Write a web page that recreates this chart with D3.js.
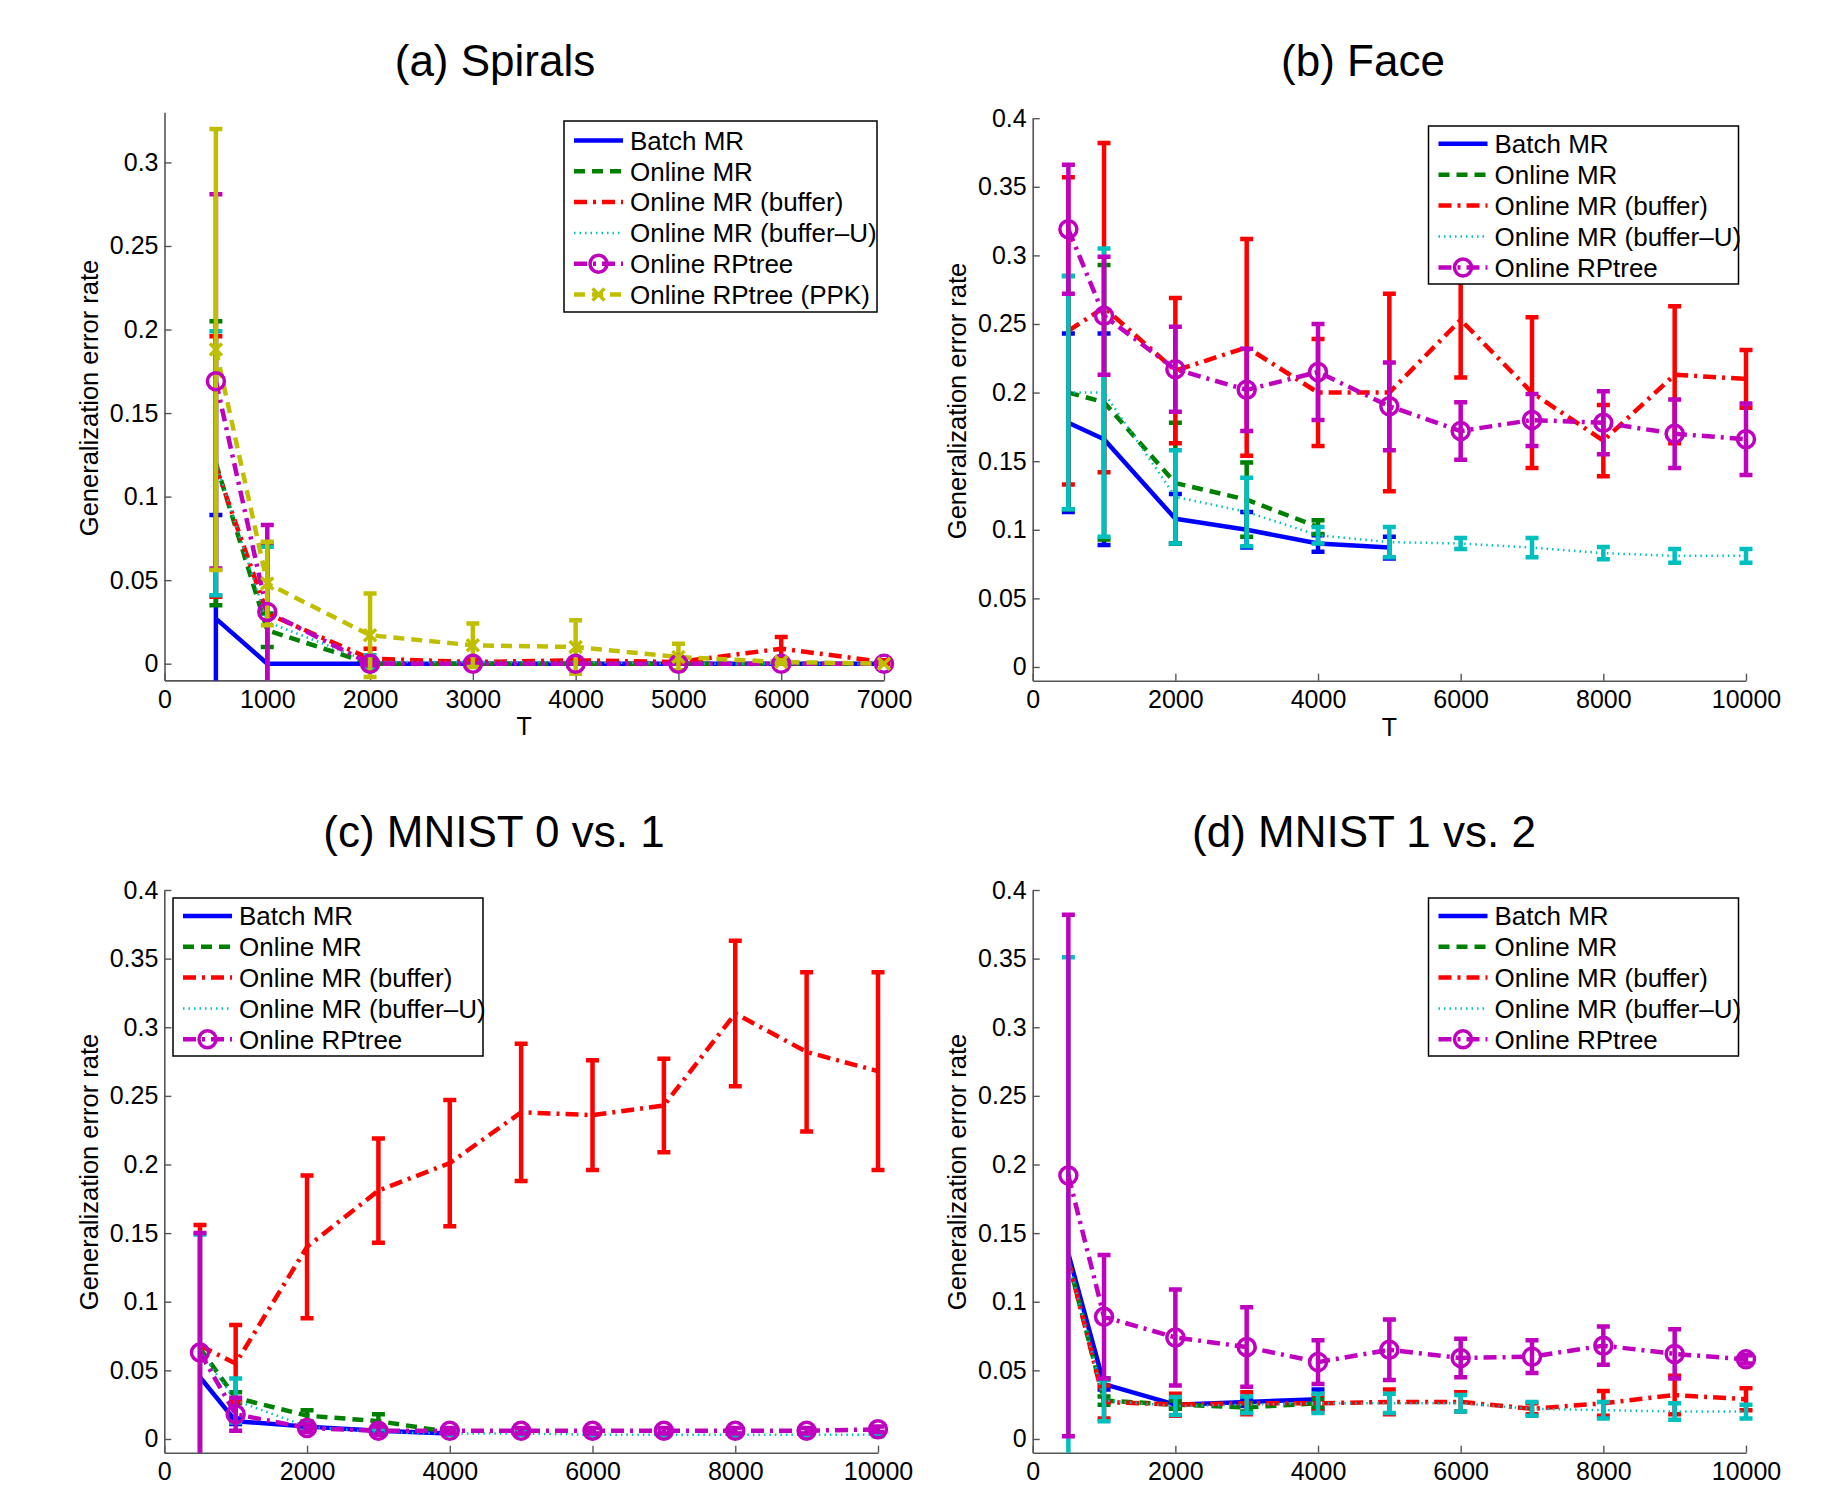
<!DOCTYPE html>
<html>
<head>
<meta charset="utf-8">
<script src="https://cdn.jsdelivr.net/npm/d3@7"></script>
<style>
  body { margin: 0; background: #fff; }
  text { font-family: "Liberation Sans", Arial, Helvetica, sans-serif; }
</style>
</head>
<body>
<div id="chart"></div>
<script>
const W = 1845, H = 1485

// ---- data ----
const seriesNames = ["Batch MR", "Online MR", "Online MR (buffer)", "Online MR (buffer\u2013U)", "Online RPtree", "Online RPtree (PPK)"]
const titles = ["(a) Spirals", "(b) Face", "(c) MNIST 0 vs. 1", "(d) MNIST 1 vs. 2"]

const tSpirals = [500, 1000, 2000, 3000, 4000, 5000, 6000, 7000]
const tLong = [500, 1000, 2000, 3000, 4000, 5000, 6000, 7000, 8000, 9000, 10000]

const spiralsXTicks = [0, 1000, 2000, 3000, 4000, 5000, 6000, 7000]
const spiralsYTicks = [0, 0.05, 0.1, 0.15, 0.2, 0.25, 0.3]
const longXTicks = [0, 2000, 4000, 6000, 8000, 10000]
const longYTicks = [0, 0.05, 0.1, 0.15, 0.2, 0.25, 0.3, 0.35, 0.4]

// one row per series: Batch MR, Online MR, buffer, buffer-U, RPtree, RPtree (PPK)
const spiralsMean = [
    [0.027, 0, 0, 0, 0, 0, 0, 0],
    [0.12, 0.02, 0, 0, 0, 0, 0, 0],
    [0.118, 0.03, 0.003, 0.001, 0.002, 0.001, 0.009, 0.001],
    [0.12, 0.025, 0.001, 0.001, 0.001, 0, 0, 0],
    [0.169, 0.031, 0, 0, 0, 0, 0, 0],
    [0.188, 0.048, 0.017, 0.011, 0.01, 0.004, 0.001, 0]
]
const spiralsErr = [
    [0.062, 0, 0, 0, 0, 0, 0, 0],
    [0.085, 0.01, 0.002, 0, 0, 0, 0, 0],
    [0.078, 0.042, 0.006, 0.001, 0.001, 0.001, 0.007, 0.001],
    [0.079, 0.045, 0.004, 0, 0, 0, 0, 0],
    [0.112, 0.052, 0.001, 0, 0, 0, 0, 0],
    [0.132, 0.025, 0.025, 0.013, 0.016, 0.008, 0.001, 0]
]

const faceMean = [
    [0.178, 0.166, 0.108, 0.1, 0.09, 0.087, null, null, null, null, null],
    [0.2, 0.193, 0.134, 0.122, 0.102, null, null, null, null, null, null],
    [0.245, 0.262, 0.216, 0.233, 0.2, 0.2, 0.253, 0.2, 0.165, 0.213, 0.21],
    [0.2, 0.2, 0.124, 0.113, 0.096, 0.091, 0.09, 0.087, 0.083, 0.081, 0.081],
    [0.319, 0.256, 0.217, 0.202, 0.215, 0.19, 0.172, 0.18, 0.178, 0.17, 0.166]
]
const faceErr = [
    [0.065, 0.077, 0.018, 0.013, 0.006, 0.008, null, null, null, null, null],
    [0.085, 0.1, 0.044, 0.027, 0.005, null, null, null, null, null, null],
    [0.112, 0.12, 0.053, 0.079, 0.039, 0.072, 0.042, 0.055, 0.026, 0.05, 0.021],
    [0.085, 0.105, 0.034, 0.025, 0.006, 0.011, 0.004, 0.007, 0.0045, 0.005, 0.005],
    [0.047, 0.043, 0.031, 0.03, 0.035, 0.032, 0.021, 0.019, 0.023, 0.025, 0.026]
]

const mnist01Mean = [
    [0.045, 0.013, 0.009, 0.006, 0.004, null, null, null, null, null, null],
    [0.066, 0.03, 0.017, 0.013, 0.005, null, null, null, null, null, null],
    [0.068, 0.055, 0.14, 0.181, 0.201, 0.238, 0.236, 0.243, 0.31, 0.282, 0.268],
    [0.064, 0.028, 0.009, 0.005, 0.004, 0.004, 0.003, 0.003, 0.003, 0.003, 0.003],
    [0.063, 0.018, 0.008, 0.006, 0.006, 0.006, 0.006, 0.006, 0.006, 0.006, 0.007]
]
const mnist01Err = [
    [0, 0.002, 0.002, 0.001, 0.001, null, null, null, null, null, null],
    [0, 0.004, 0.004, 0.005, 0.001, null, null, null, null, null, null],
    [0.088, 0.028, 0.052, 0.038, 0.046, 0.05, 0.04, 0.034, 0.053, 0.058, 0.072],
    [0.085, 0.016, 0.003, 0.002, 0.001, 0.001, 0.001, 0.001, 0.001, 0.001, 0.001],
    [0.087, 0.012, 0.003, 0.003, 0.002, 0.002, 0.002, 0.002, 0.002, 0.002, 0.002]
]

const mnist12Mean = [
    [0.135, 0.04, 0.025, 0.027, 0.029, null, null, null, null, null, null],
    [0.13, 0.028, 0.025, 0.023, 0.026, null, null, null, null, null, null],
    [0.13, 0.027, 0.025, 0.026, 0.026, 0.027, 0.027, 0.022, 0.026, 0.032, 0.029],
    [0.13, 0.028, 0.024, 0.025, 0.026, 0.026, 0.026, 0.022, 0.021, 0.02, 0.02],
    [0.192, 0.089, 0.074, 0.067, 0.056, 0.065, 0.059, 0.06, 0.068, 0.062, 0.058]
]
const mnist12Err = [
    [0, 0.004, 0.003, 0.003, 0.007, null, null, null, null, null, null],
    [0, 0.003, 0.003, 0.003, 0.003, null, null, null, null, null, null],
    [0, 0.012, 0.008, 0.008, 0.006, 0.009, 0.007, 0.004, 0.009, 0.014, 0.008],
    [0.221, 0.015, 0.0065, 0.006, 0.007, 0.007, 0.006, 0.005, 0.006, 0.006, 0.005],
    [0.19, 0.045, 0.035, 0.029, 0.016, 0.022, 0.014, 0.012, 0.014, 0.018, 0.003]
]

// ---- styles ----
const styles = [
    { color: "#0000ff", dash: null, width: 4.5 },
    { color: "#008000", dash: "11,7", width: 4.5 },
    { color: "#ff0000", dash: "13,6,3,6", width: 4.5 },
    { color: "#00bfbf", dash: "1.5,4", width: 2.5 },
    { color: "#bf00bf", dash: "13,6,3,6", width: 4.5, marker: "o" },
    { color: "#bfbf00", dash: "11,7", width: 4.5, marker: "x" }
]

// ---- layout ----
const panels = [
    { title: titles[0], t: tSpirals, mean: spiralsMean, err: spiralsErr, xMax: 7000, yMax: 0.33,
      xTicks: spiralsXTicks, yTicks: spiralsYTicks, left: 164.5, right: 884, top: 112.3, bottom: 680.4,
      titleX: 495, titleY: 76, ylabX: 98, ylabY: 398, tLabel: true,
      legend: { x: 564, y: 121, w: 313, h: 191, first: 19.5, step: 30.8 } },
    { title: titles[1], t: tLong, mean: faceMean, err: faceErr, xMax: 10000, yMax: 0.4,
      xTicks: longXTicks, yTicks: longYTicks, left: 1032.7, right: 1746, top: 118.2, bottom: 680.7,
      titleX: 1363, titleY: 76, ylabX: 966, ylabY: 401, tLabel: true,
      legend: { x: 1428.5, y: 126, w: 310, h: 158, first: 17.8, step: 30.9 } },
    { title: titles[2], t: tLong, mean: mnist01Mean, err: mnist01Err, xMax: 10000, yMax: 0.4,
      xTicks: longXTicks, yTicks: longYTicks, left: 164.3, right: 878, top: 890, bottom: 1452.7,
      titleX: 494, titleY: 847, ylabX: 98, ylabY: 1172, tLabel: false,
      legend: { x: 173, y: 898, w: 310, h: 158, first: 18, step: 30.8 } },
    { title: titles[3], t: tLong, mean: mnist12Mean, err: mnist12Err, xMax: 10000, yMax: 0.4,
      xTicks: longXTicks, yTicks: longYTicks, left: 1032.7, right: 1746, top: 890, bottom: 1452.7,
      titleX: 1364, titleY: 847, ylabX: 966, ylabY: 1172, tLabel: false,
      legend: { x: 1428.5, y: 898, w: 310, h: 158, first: 18, step: 30.8 } }
]

const svg = d3.select("#chart").append("svg")
    .attr("width", W)
    .attr("height", H)
    .style("display", "block")

svg.append("rect").attr("width", W).attr("height", H).attr("fill", "white")

function drawMarker(g, kind, cx, cy, color) {
    if (kind === "o") {
        g.append("circle")
            .attr("cx", cx).attr("cy", cy).attr("r", 8.5)
            .attr("fill", "none")
            .attr("stroke", color)
            .attr("stroke-width", 3.5)
    } else if (kind === "x") {
        const s = 6
        g.append("path")
            .attr("d", `M${cx - s},${cy - s}L${cx + s},${cy + s}M${cx - s},${cy + s}L${cx + s},${cy - s}`)
            .attr("stroke", color)
            .attr("stroke-width", 3.5)
            .attr("fill", "none")
    }
}

function drawPanel(p, pi) {
    const x = d3.scaleLinear().domain([0, p.xMax]).range([p.left, p.right])
    const y = d3.scaleLinear().domain([-0.01, p.yMax]).range([p.bottom, p.top])

    const g = svg.append("g").attr("class", "panel")

    const clipId = "clip" + pi
    svg.append("clipPath").attr("id", clipId)
        .append("rect")
        .attr("x", p.left - 40)
        .attr("y", p.top - 10)
        .attr("width", p.right - p.left + 80)
        .attr("height", p.bottom - p.top + 10)

    // axes (MATLAB style: ticks inside, no box)
    const yAxis = g.append("g")
        .attr("transform", `translate(${p.left},0)`)
        .call(d3.axisLeft(y).tickValues(p.yTicks).tickSizeInner(-7).tickSizeOuter(0)
            .tickPadding(6).tickFormat(d3.format("~g")))
    const xAxis = g.append("g")
        .attr("transform", `translate(0,${p.bottom})`)
        .call(d3.axisBottom(x).tickValues(p.xTicks).tickSizeInner(-7).tickSizeOuter(0)
            .tickPadding(10).tickFormat(d3.format("d")))
    for (const a of [xAxis, yAxis]) {
        a.select(".domain").attr("stroke", "#555").attr("stroke-width", 1.6)
        a.selectAll(".tick line").attr("stroke", "#555").attr("stroke-width", 1.4)
        a.selectAll(".tick text").attr("font-size", 25).attr("fill", "black")
            .style("font-family", "'Liberation Sans', Arial, sans-serif")
    }

    // series
    const plot = g.append("g").attr("clip-path", `url(#${clipId})`)
    const marks = g.append("g")
    p.mean.forEach((vals, si) => {
        const st = styles[si]
        const pts = p.t.map((t, i) => ({ t: t, v: vals[i], e: p.err[si][i] })).filter(d => d.v !== null)

        const line = d3.line().x(d => x(d.t)).y(d => y(d.v))
        plot.append("path")
            .datum(pts)
            .attr("d", line)
            .attr("fill", "none")
            .attr("stroke", st.color)
            .attr("stroke-width", st.width)
            .attr("stroke-dasharray", st.dash)
            .attr("stroke-linejoin", "round")

        // error bars
        const bars = plot.append("g")
            .attr("stroke", st.color)
            .attr("stroke-width", 4.5)
            .attr("fill", "none")
        pts.filter(d => d.e > 0).forEach(d => {
            const cx = x(d.t), y0 = y(d.v - d.e), y1 = y(d.v + d.e)
            bars.append("path")
                .attr("d", `M${cx},${y0}L${cx},${y1}M${cx - 6.5},${y0}L${cx + 6.5},${y0}M${cx - 6.5},${y1}L${cx + 6.5},${y1}`)
        })

        if (st.marker) {
            pts.forEach(d => drawMarker(marks, st.marker, x(d.t), y(d.v), st.color))
        }
    })

    // title and labels
    g.append("text")
        .attr("x", p.titleX).attr("y", p.titleY)
        .attr("text-anchor", "middle")
        .attr("font-size", 44)
        .text(p.title)

    g.append("text")
        .attr("transform", `translate(${p.ylabX},${p.ylabY}) rotate(-90)`)
        .attr("text-anchor", "middle")
        .attr("font-size", 25.5)
        .text("Generalization error rate")

    if (p.tLabel) {
        g.append("text")
            .attr("x", (p.left + p.right) / 2).attr("y", p.bottom + 55)
            .attr("text-anchor", "middle")
            .attr("font-size", 25)
            .text("T")
    }

    // legend
    const L = p.legend
    const lg = g.append("g").attr("class", "legend")
    lg.append("rect")
        .attr("x", L.x).attr("y", L.y).attr("width", L.w).attr("height", L.h)
        .attr("fill", "white").attr("stroke", "black").attr("stroke-width", 1.5)
    p.mean.forEach((vals, si) => {
        const st = styles[si]
        const ry = L.y + L.first + si * L.step
        lg.append("line")
            .attr("x1", L.x + 10).attr("x2", L.x + 59)
            .attr("y1", ry).attr("y2", ry)
            .attr("stroke", st.color)
            .attr("stroke-width", st.width)
            .attr("stroke-dasharray", st.dash)
        if (st.marker) drawMarker(lg, st.marker, L.x + 34.5, ry, st.color)
        lg.append("text")
            .attr("x", L.x + 66).attr("y", ry)
            .attr("dy", "0.36em")
            .attr("font-size", 26)
            .attr("textLength", null)
            .text(seriesNames[si])
    })
}

panels.forEach(drawPanel)
</script>
</body>
</html>
